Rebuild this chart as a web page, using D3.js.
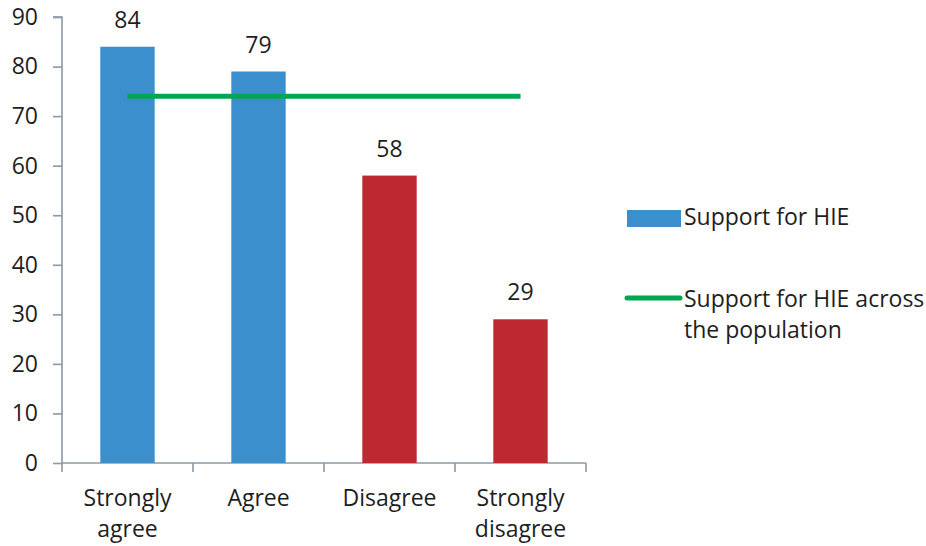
<!DOCTYPE html>
<html>
<head>
<meta charset="utf-8">
<script src="https://cdn.jsdelivr.net/npm/d3@7"></script>
<style>
  html, body { margin: 0; padding: 0; background: #fff; }
  svg text { font-family: "Open Sans", sans-serif; fill: #1e1e1e; }
</style>
</head>
<body>
<svg id="chart" width="926" height="546"></svg>
<script>
// Support for HIE by attitude group
const categories = [["Strongly", "agree"], ["Agree"], ["Disagree"], ["Strongly", "disagree"]];
const supportValues = [84, 79, 58, 29];
const barColors = ["#3b8fcc", "#3b8fcc", "#bd2831", "#bd2831"];
const populationAverage = 74;
const yTicks = [0, 10, 20, 30, 40, 50, 60, 70, 80, 90];
const legendLabels = [["Support for HIE"], ["Support for HIE across", "the population"]];

const svg = d3.select("#chart");
const plot = { left: 62, right: 586, top: 17, bottom: 463 };
const axisColor = "#8c98a4";
const fontSize = "23px";

const x = d3.scaleBand()
  .domain(d3.range(categories.length))
  .range([plot.left, plot.right])
  .paddingInner(0.585)
  .paddingOuter(0.2925);

const y = d3.scaleLinear().domain([0, 90]).range([plot.bottom, plot.top]);

// y axis
const yAxis = svg.append("g")
  .attr("transform", `translate(${plot.left},0)`)
  .call(d3.axisLeft(y).tickValues(yTicks).tickSize(9).tickPadding(15));
yAxis.selectAll("path, line").attr("stroke", axisColor).attr("stroke-width", 1.6);
yAxis.select(".domain").attr("d", `M-9,${y(90)}H0V${y(0)}`);
yAxis.selectAll("text").style("font-size", fontSize).attr("fill", "#1e1e1e");

// x axis with ticks on category boundaries
const step = (plot.right - plot.left) / categories.length;
const xg = svg.append("g");
xg.append("line")
  .attr("x1", plot.left).attr("x2", plot.right)
  .attr("y1", plot.bottom).attr("y2", plot.bottom)
  .attr("stroke", axisColor).attr("stroke-width", 1.6);
xg.selectAll("line.tick")
  .data(d3.range(categories.length + 1))
  .join("line")
  .attr("class", "tick")
  .attr("x1", i => plot.left + i * step).attr("x2", i => plot.left + i * step)
  .attr("y1", plot.bottom).attr("y2", plot.bottom + 9)
  .attr("stroke", axisColor).attr("stroke-width", 1.6);

const catLabels = xg.selectAll("text.cat")
  .data(categories)
  .join("text")
  .attr("class", "cat")
  .attr("text-anchor", "middle")
  .style("font-size", fontSize)
  .attr("transform", (d, i) => `translate(${x(i) + x.bandwidth() / 2},${plot.bottom + 43})`);
catLabels.selectAll("tspan")
  .data(d => d)
  .join("tspan")
  .attr("x", 0)
  .attr("dy", (d, j) => j === 0 ? 0 : 31)
  .text(d => d);

// bars
svg.selectAll("rect.bar")
  .data(supportValues)
  .join("rect")
  .attr("class", "bar")
  .attr("x", (d, i) => x(i))
  .attr("width", x.bandwidth())
  .attr("y", d => y(d))
  .attr("height", d => y(0) - y(d))
  .attr("fill", (d, i) => barColors[i]);

// value labels
svg.selectAll("text.val")
  .data(supportValues)
  .join("text")
  .attr("class", "val")
  .attr("text-anchor", "middle")
  .style("font-size", fontSize)
  .attr("x", (d, i) => x(i) + x.bandwidth() / 2)
  .attr("y", d => y(d) - 19)
  .text(d => d);

// population average line
const cx = i => x(i) + x.bandwidth() / 2;
svg.append("line")
  .attr("x1", cx(0)).attr("x2", cx(categories.length - 1))
  .attr("y1", y(populationAverage)).attr("y2", y(populationAverage))
  .attr("stroke", "#00a651").attr("stroke-width", 5);

// legend
const lg = svg.append("g");
lg.append("rect")
  .attr("x", 627).attr("y", 210).attr("width", 54).attr("height", 17)
  .attr("fill", "#3b8fcc");
lg.append("line")
  .attr("x1", 627).attr("x2", 680).attr("y1", 298).attr("y2", 298)
  .attr("stroke", "#00a651").attr("stroke-width", 5).attr("stroke-linecap", "round");
const legendY = [225, 307];
lg.selectAll("text.leg")
  .data(legendLabels)
  .join("text")
  .attr("class", "leg")
  .style("font-size", fontSize)
  .attr("transform", (d, i) => `translate(684,${legendY[i]})`)
  .selectAll("tspan")
  .data(d => d)
  .join("tspan")
  .attr("x", 0)
  .attr("dy", (d, j) => j === 0 ? 0 : 31)
  .text(d => d);
</script>
</body>
</html>
